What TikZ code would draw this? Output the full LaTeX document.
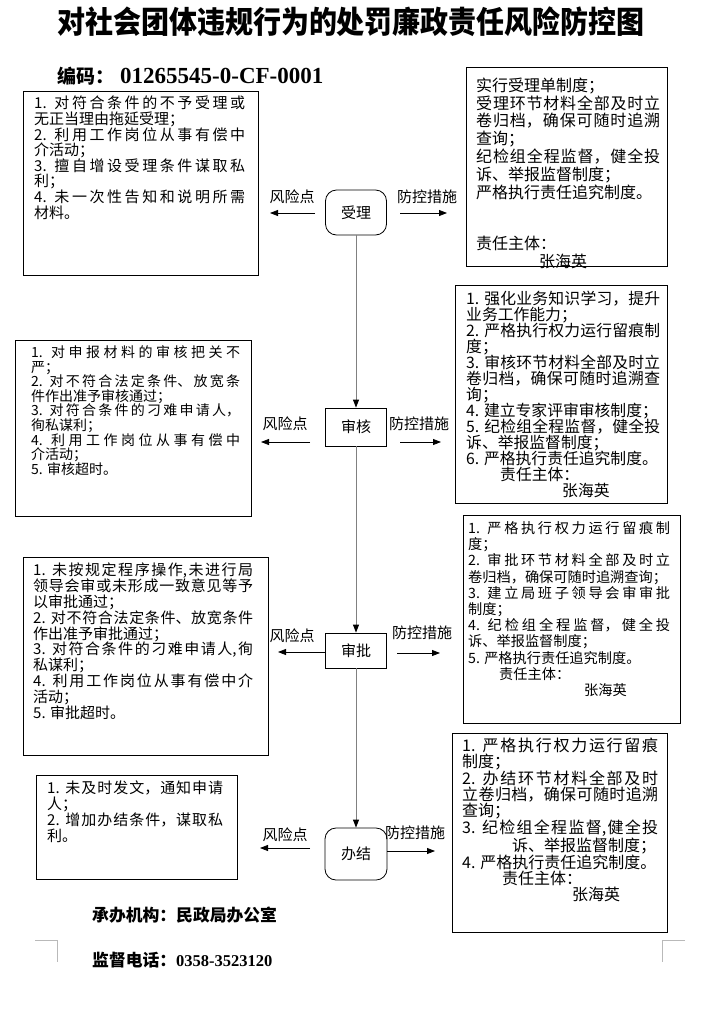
\documentclass[tikz,border=0pt]{standalone}
\usepackage{fontspec}
\setmainfont{Noto Sans CJK SC}
\newfontfamily\numfont{Liberation Serif}
\XeTeXlinebreaklocale "zh"
\XeTeXlinebreakskip=0pt plus 4pt minus 0.3pt
\usetikzlibrary{arrows.meta}

\begin{document}
\begin{tikzpicture}[x=1pt, y=-1pt,
  casebox/.style={draw, line width=0.8pt, inner sep=0pt, anchor=north west},
  casetext/.style={inner sep=0pt, anchor=north west, align=justify},
  stage/.style={draw, line width=0.8pt, minimum width=61pt, inner sep=0pt, font=\fontsize{15}{15}\selectfont},
  flowline/.style={draw=gray, line width=1pt, -{Triangle[length=8pt, width=6pt, color=black]}},
  sidearrow/.style={line width=0.8pt, -{Triangle[length=8pt, width=6pt]}},
  sidelabel/.style={inner sep=0pt, font=\fontsize{15}{15}\selectfont}]
  \useasboundingbox (0,0) rectangle (703,1018);

  % Title and code
  \node[font=\bfseries\fontsize{28}{30}\selectfont, yscale=1.1, transform shape] (title) at (351,22) {对社会团体违规行为的处罚廉政责任风险防控图};
  \node[anchor=west, inner sep=0pt] (code) at (57,76) {{\bfseries\fontsize{19}{19}\selectfont 编码：}\hspace{6pt}{\numfont\bfseries\fontsize{23}{23}\selectfont 01265545-0-CF-0001}};

  % Row 1: accept
  \node[stage, rounded corners=11pt, minimum height=45pt] (accept) at (356,212.5) {受理};
  \node[casebox, minimum width=235pt, minimum height=184pt] (risk1) at (23,91) {};
  \node[casetext, text width=211pt, font=\fontsize{15}{15.6}\selectfont] (risk1txt) at (34,96) {%
1. 对符合条件的不予受理或\linebreak 无正当理由拖延受理；\\%
2. 利用工作岗位从事有偿中\linebreak 介活动；\\%
3. 擅自增设受理条件谋取私\linebreak 利；\\%
4. 未一次性告知和说明所需\linebreak 材料。};
  \node[casebox, minimum width=201pt, minimum height=199pt] (ctrl1) at (466,67) {};
  \node[casetext, text width=184pt, font=\fontsize{16}{17.8}\selectfont] (ctrl1txt) at (476,77.5) {%
实行受理单制度；\\%
受理环节材料全部及时立\linebreak 卷归档，确保可随时追溯\linebreak 查询；\\%
纪检组全程监督，健全投\linebreak 诉、举报监督制度；\\%
严格执行责任追究制度。\\[34pt]%
责任主体：\\%
\hspace*{63pt}张海英};
  \coordinate (r1a) at (315,213);
  \coordinate (r1b) at (270,213);
  \coordinate (c1a) at (400,213);
  \coordinate (c1b) at (447,213);
  \draw[sidearrow] (r1a) -- (r1b);
  \draw[sidearrow] (c1a) -- (c1b);
  \node[sidelabel] (r1lab) at (292,197) {风险点};
  \node[sidelabel] (c1lab) at (427,197) {防控措施};

  % Row 2: review
  \node[stage, minimum height=38pt] (review) at (356,427) {审核};
  \node[casebox, minimum width=236pt, minimum height=176pt] (risk2) at (15,340) {};
  \node[casetext, text width=209pt, font=\fontsize{14}{14.6}\selectfont] (risk2txt) at (31,345.4) {%
1. 对申报材料的审核把关不\linebreak 严；\\%
2. 对不符合法定条件、放宽条\linebreak 件作出准予审核通过；\\%
3. 对符合条件的刁难申请人，\linebreak 徇私谋利；\\%
4. 利用工作岗位从事有偿中\linebreak 介活动；\\%
5. 审核超时。};
  \node[casebox, minimum width=212pt, minimum height=218pt] (ctrl2) at (455,285) {};
  \node[casetext, text width=194pt, font=\fontsize{15.8}{16}\selectfont] (ctrl2txt) at (466,290.6) {%
1. 强化业务知识学习，提升\linebreak 业务工作能力；\\%
2. 严格执行权力运行留痕制\linebreak 度；\\%
3. 审核环节材料全部及时立\linebreak 卷归档，确保可随时追溯查\linebreak 询；\\%
4. 建立专家评审审核制度；\\%
5. 纪检组全程监督，健全投\linebreak 诉、举报监督制度；\\%
6. 严格执行责任追究制度。\\%
\hspace*{34pt}责任主体：\\%
\hspace*{96pt}张海英};
  \coordinate (r2a) at (310,442);
  \coordinate (r2b) at (261,442);
  \coordinate (c2a) at (400,442);
  \coordinate (c2b) at (441,442);
  \draw[sidearrow] (r2a) -- (r2b);
  \draw[sidearrow] (c2a) -- (c2b);
  \node[sidelabel] (r2lab) at (285,424) {风险点};
  \node[sidelabel] (c2lab) at (419,424) {防控措施};

  % Row 3: approve
  \node[stage, minimum height=35pt] (approve) at (356,650.5) {审批};
  \node[casebox, minimum width=245pt, minimum height=198pt] (risk3) at (23,557) {};
  \node[casetext, text width=220pt, font=\fontsize{15}{15.8}\selectfont] (risk3txt) at (33,563) {%
1. 未按规定程序操作,未进行局\linebreak 领导会审或未形成一致意见等予\linebreak 以审批通过；\\%
2. 对不符合法定条件、放宽条件\linebreak 作出准予审批通过；\\%
3. 对符合条件的刁难申请人,徇\linebreak 私谋利；\\%
4. 利用工作岗位从事有偿中介\linebreak 活动；\\%
5. 审批超时。};
  \node[casebox, minimum width=217pt, minimum height=208pt] (ctrl3) at (463,515) {};
  \node[casetext, text width=202pt, font=\fontsize{14.2}{16.2}\selectfont] (ctrl3txt) at (468,521.3) {%
1. 严格执行权力运行留痕制\linebreak 度；\\%
2. 审批环节材料全部及时立\linebreak 卷归档，确保可随时追溯查询；\\%
3. 建立局班子领导会审审批\linebreak 制度；\\%
4. 纪检组全程监督，健全投\linebreak 诉、举报监督制度；\\%
5. 严格执行责任追究制度。\\%
\hspace*{31pt}责任主体：\\%
\hspace*{116pt}张海英};
  \coordinate (r3a) at (326,652);
  \coordinate (r3b) at (278,652);
  \coordinate (c3a) at (397,653);
  \coordinate (c3b) at (440,653);
  \draw[sidearrow] (r3a) -- (r3b);
  \draw[sidearrow] (c3a) -- (c3b);
  \node[sidelabel] (r3lab) at (292,636) {风险点};
  \node[sidelabel] (c3lab) at (422,633) {防控措施};

  % Row 4: finish
  \node[stage, rounded corners=11pt, minimum width=62pt, minimum height=52pt] (finish) at (356,854) {办结};
  \node[casebox, minimum width=201pt, minimum height=104pt] (risk4) at (36,775) {};
  \node[casetext, text width=176pt, font=\fontsize{15}{15.7}\selectfont] (risk4txt) at (47,781) {%
1. 未及时发文，通知申请\linebreak 人；\\%
2. 增加办结条件，谋取私\linebreak 利。};
  \node[casebox, minimum width=215pt, minimum height=199pt] (ctrl4) at (452,733) {};
  \node[casetext, text width=196pt, font=\fontsize{16}{16.1}\selectfont] (ctrl4txt) at (462,737.5) {%
1. 严格执行权力运行留痕\linebreak 制度；\\%
2. 办结环节材料全部及时\linebreak 立卷归档，确保可随时追溯\linebreak 查询；\\%
3. 纪检组全程监督,健全投\linebreak \hspace*{50pt}诉、举报监督制度；\\%
4. 严格执行责任追究制度。\\%
\hspace*{40pt}责任主体：\\%
\hspace*{110pt}张海英};
  \coordinate (r4a) at (310,848);
  \coordinate (r4b) at (260,848);
  \coordinate (c4a) at (387,851);
  \coordinate (c4b) at (435,851);
  \draw[sidearrow] (r4a) -- (r4b);
  \draw[sidearrow] (c4a) -- (c4b);
  \node[sidelabel] (r4lab) at (285,835) {风险点};
  \node[sidelabel] (c4lab) at (415,833) {防控措施};

  % Main flow
  \draw[flowline] (accept) -- (review);
  \draw[flowline] (review) -- (approve);
  \draw[flowline] (approve) -- (finish);

  % Footer
  \node[anchor=west, inner sep=0pt, font=\bfseries\fontsize{16.8}{17}\selectfont] (office) at (92,915) {承办机构：民政局办公室};
  \node[anchor=west, inner sep=0pt] (phone) at (92,960) {{\bfseries\fontsize{16.8}{17}\selectfont 监督电话：}{\numfont\bfseries\fontsize{16.5}{17}\selectfont 0358-3523120}};
  \draw[gray!55, line width=1pt] (35,940) -- (57,940) -- (57,962);
  \draw[gray!55, line width=1pt] (685,940) -- (662,940) -- (662,962);
\end{tikzpicture}
\end{document}
